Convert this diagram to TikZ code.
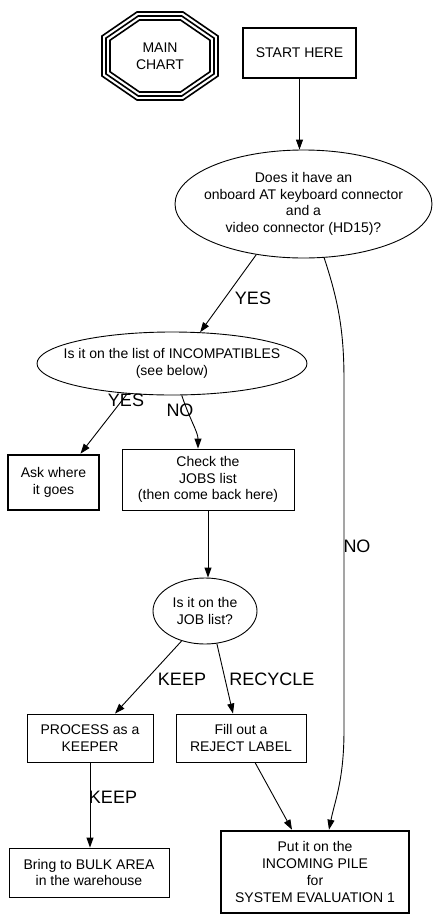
\documentclass[tikz,border=0pt]{standalone}
\usepackage{fontspec}
\setmainfont{Liberation Sans}
\usetikzlibrary{shapes,arrows.meta,positioning,calc}

\begin{document}
\begin{tikzpicture}[
    x=1pt, y=-1pt,
    every node/.style={align=center, font=\fontsize{14}{16.7}\selectfont},
    box/.style={draw, line width=0.9pt, inner sep=0pt},
    boldbox/.style={box, line width=2.6pt},
    decision/.style={draw, ellipse, line width=0.9pt, inner xsep=-24pt, inner ysep=0pt},
    octline/.style={line width=1.6pt},
    arrow/.style={-{Triangle[length=10pt,width=7pt]}, line width=0.9pt},
    edgelabel/.style={font=\fontsize{18}{20}\selectfont, inner sep=0pt}
]
\useasboundingbox (0,0) rectangle (439,919);

% main chart marker
\node (main) at (160,56) {MAIN\\CHART};
\foreach \g in {0,4,8} {
  \pgfmathsetmacro{\oa}{58-\g}
  \pgfmathsetmacro{\ob}{44-\g}
  \pgfmathsetmacro{\oc}{23-0.31*\g}
  \pgfmathsetmacro{\od}{20-0.53*\g}
  \draw[octline] ($(main)+(-\oc,-\ob)$) -- ($(main)+(\oc,-\ob)$) -- ($(main)+(\oa,-\od)$)
    -- ($(main)+(\oa,\od)$) -- ($(main)+(\oc,\ob)$) -- ($(main)+(-\oc,\ob)$)
    -- ($(main)+(-\oa,\od)$) -- ($(main)+(-\oa,-\od)$) -- cycle;
}

\node[boldbox, minimum width=113pt, minimum height=50pt] (start) at (299.5,53) {START HERE};
\node[decision, minimum width=257pt, minimum height=108pt] (isboard) at (303.5,204)
  {Does it have an\\onboard AT keyboard connector\\and a\\video connector (HD15)?};
\node[decision, minimum width=270pt, minimum height=63pt] (incompat) at (172,363.5)
  {Is it on the list of INCOMPATIBLES\\(see below)};
\node[boldbox, minimum width=91pt, minimum height=55pt] (ask) at (53.5,482.5) {Ask where\\it goes};
\node[box, minimum width=172pt, minimum height=61pt] (jobs) at (208,479.5)
  {Check the\\JOBS list\\(then come back here)};
\node[decision, minimum width=104pt, minimum height=66pt] (joblist) at (205,611) {Is it on the\\JOB list?};
\node[box, minimum width=126pt, minimum height=48pt] (keeper) at (90,738) {PROCESS as a\\KEEPER};
\node[box, minimum width=130pt, minimum height=48pt] (reject) at (241,738) {Fill out a\\REJECT LABEL};
\node[box, minimum width=160pt, minimum height=49pt] (bulk) at (89,872.5) {Bring to BULK AREA\\in the warehouse};
\node[boldbox, minimum width=188pt, minimum height=82pt] (pile) at (315,872)
  {Put it on the\\INCOMING PILE\\for\\SYSTEM EVALUATION 1};

% connectors
\draw[arrow] (start.south) -- (start.south |- isboard.north);
\draw[arrow] (isboard.227) -- (incompat.48);
\draw[arrow] (isboard.291) .. controls (338,300) and (344,330) .. (344,380) -- (344,730)
  .. controls (344,780) and (335,800) .. ([xshift=14pt]pile.north);
\draw[arrow] (incompat.214) -- ([xshift=27pt]ask.north);
\draw[arrow] (incompat.287) .. controls (190,420) and (198,432) .. ([xshift=-10pt]jobs.north);
\draw[arrow] (jobs.south) -- (jobs.south |- joblist.north);
\draw[arrow] (joblist.232) -- ([xshift=25pt]keeper.north);
\draw[arrow] (joblist.290) -- ([xshift=-8pt]reject.north);
\draw[arrow] (keeper.south) -- (keeper.south |- bulk.north);
\draw[arrow] ([xshift=14pt]reject.south) -- ([xshift=-23pt]pile.north);

% edge labels
\node[edgelabel] (yesone) at (253,298) {YES};
\node[edgelabel] (noone) at (357,546) {NO};
\node[edgelabel] (yestwo) at (126,400) {YES};
\node[edgelabel] (notwo) at (180,410) {NO};
\node[edgelabel] (keepone) at (182,679) {KEEP};
\node[edgelabel] (recycle) at (272,679) {RECYCLE};
\node[edgelabel] (keeptwo) at (113,797) {KEEP};
\end{tikzpicture}
\end{document}
